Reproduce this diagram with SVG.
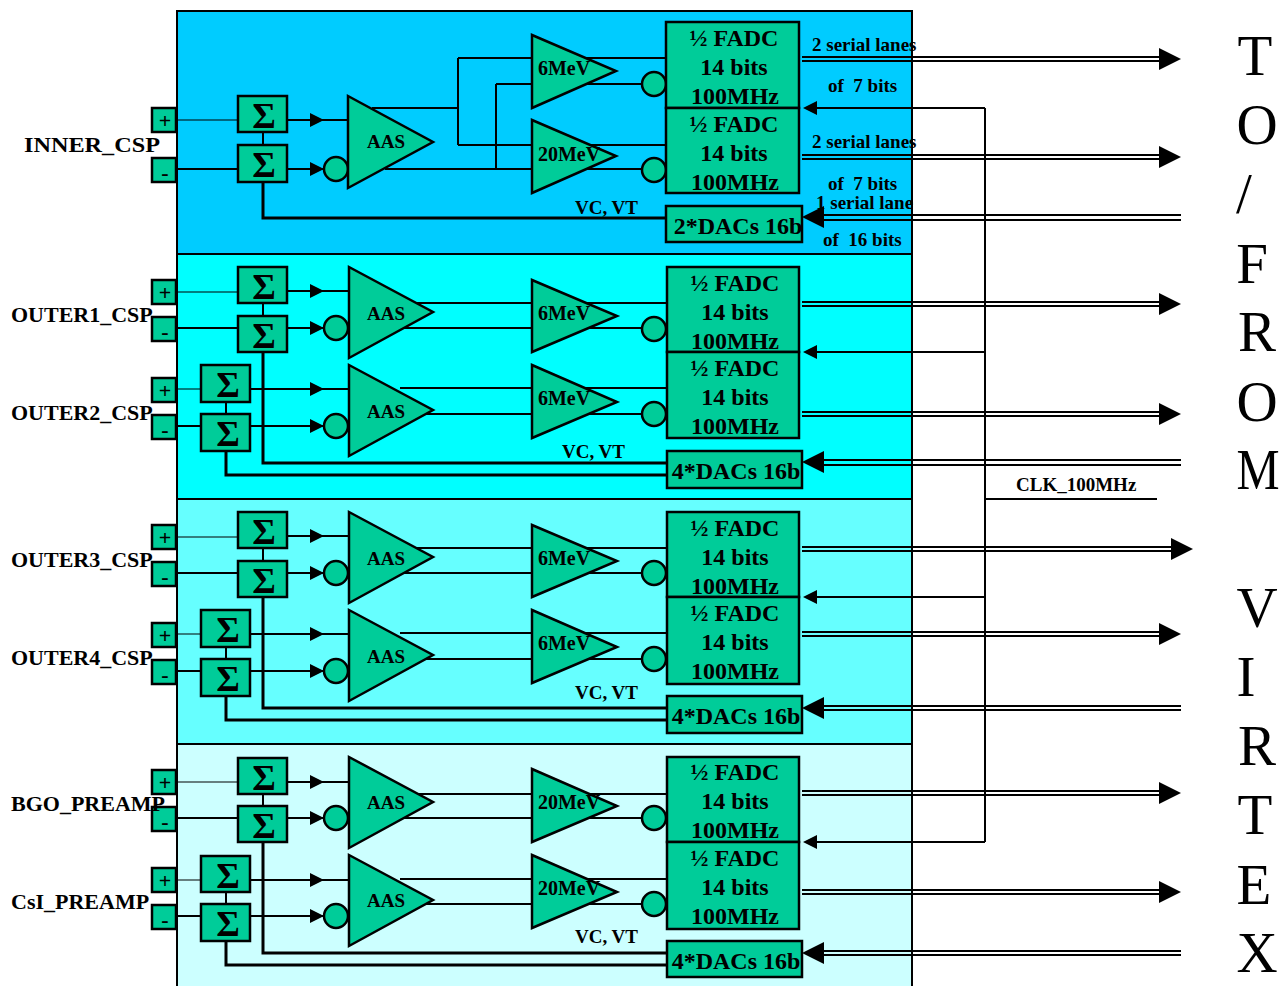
<svg xmlns="http://www.w3.org/2000/svg" width="1281" height="986" viewBox="0 0 1281 986">
<style>
text{font-family:"Liberation Serif","Times New Roman",serif;font-weight:bold;fill:#000}
.panel{stroke:#000;stroke-width:2}
.n{fill:#00cc99;stroke:#000;stroke-width:2.5}
.c{fill:none;stroke:#000;stroke-width:2}
.t{fill:none;stroke:#000;stroke-width:1.2}
.k{fill:none;stroke:#000;stroke-width:3}
.f{font-size:24px;text-anchor:middle}
.d{font-size:24px;text-anchor:middle}
.s{font-size:36px;text-anchor:middle}
.a{font-size:19px;text-anchor:middle}
.e{font-size:20px;text-anchor:middle}
.p{font-size:22px;text-anchor:middle}
.l{font-size:22px}
.q{font-size:19px;white-space:pre}
.v{font-size:19px}
.big{font-size:57px;font-weight:normal;text-anchor:middle}
</style>
<defs>
<polygon id="ar" points="0,-11 22,0 0,11" fill="#000"/>
<polygon id="al" points="0,-11 -22,0 0,11" fill="#000"/>
<polygon id="sr" points="0,-7 14,0 0,7" fill="#000"/>
<polygon id="sl" points="0,-7 -14,0 0,7" fill="#000"/>
</defs>
<rect width="1281" height="986" fill="#fff"/>
<g id="panels">
<rect class="panel" x="177" y="11" width="735" height="243" fill="#00ccff"/>
<rect class="panel" x="177" y="254" width="735" height="245" fill="#00ffff"/>
<rect class="panel" x="177" y="499" width="735" height="245" fill="#66ffff"/>
<rect class="panel" x="177" y="744" width="735" height="243" fill="#ccffff"/>
</g>
<g id="connectors">
<path class="t" d="M176 120H238M176 292H238M176 389H201M176 537H238M176 634H201M176 782H238M176 880H201"/>
<path class="c" d="M287 120H347M176 169H238M287 169H324M263 132V145"/>
<use href="#sr" x="310" y="120"/><use href="#sr" x="310" y="169"/>
<path class="c" d="M372 108H458M458 58V145M458 58H666M458 145H666M385 169H642M496 169V84M496 84H642"/>
<path class="k" d="M263 182V218H666"/>
<path class="c" d="M287 291H349M263 303V316M176 328H238M287 328H324M250 389H349M226 402V414M176 426H201M250 426H324"/>
<use href="#sr" x="310" y="291"/><use href="#sr" x="310" y="328"/><use href="#sr" x="310" y="389"/><use href="#sr" x="310" y="426"/>
<path class="c" d="M400 303H667M400 328H642M400 388H667M400 414H642"/>
<path class="k" d="M263 352V463H667M226 451V475H667"/>
<path class="c" d="M287 536H349M263 548V561M176 573H238M287 573H324M250 634H349M226 647V659M176 671H201M250 671H324"/>
<use href="#sr" x="310" y="536"/><use href="#sr" x="310" y="573"/><use href="#sr" x="310" y="634"/><use href="#sr" x="310" y="671"/>
<path class="c" d="M400 548H667M400 573H642M400 633H667M400 659H642"/>
<path class="k" d="M263 597V708H667M226 696V720H667"/>
<path class="c" d="M287 782H349M263 794V806M176 818H238M287 818H324M250 880H349M226 892V904M176 916H201M250 916H324"/>
<use href="#sr" x="310" y="782"/><use href="#sr" x="310" y="818"/><use href="#sr" x="310" y="880"/><use href="#sr" x="310" y="916"/>
<path class="c" d="M400 794H667M400 818H642M400 879H667M400 904H642"/>
<path class="k" d="M263 842V953H667M226 941V965H667"/>
<path class="c" d="M802 57H1161M802 61H1161M802 155H1161M802 159H1161M822 215H1181M822 220H1181M802 302H1161M802 306H1161M802 412H1161M802 416H1161M822 460H1181M822 465H1181M802 547H1173M802 551H1173M802 632H1161M802 636H1161M822 706H1181M822 710H1181M802 791H1161M802 795H1161M802 890H1161M802 894H1161M822 951H1181M822 955H1181"/>
<use href="#ar" x="1159" y="59"/><use href="#ar" x="1159" y="157"/><use href="#al" x="824" y="217"/><use href="#ar" x="1159" y="304"/><use href="#ar" x="1159" y="414"/><use href="#al" x="824" y="462"/><use href="#ar" x="1171" y="549"/><use href="#ar" x="1159" y="634"/><use href="#al" x="824" y="708"/><use href="#ar" x="1159" y="793"/><use href="#ar" x="1159" y="892"/><use href="#al" x="824" y="953"/>
<path class="c" d="M985 108V842M815 108H985M815 352H985M815 597H985M815 842H985M985 499H1157"/>
<use href="#sl" x="817" y="108"/><use href="#sl" x="817" y="352"/><use href="#sl" x="817" y="597"/><use href="#sl" x="817" y="842"/>
</g>
<g id="port1p"><rect class="n" x="152" y="108" width="24" height="24"/><text class="p" x="165" y="128">+</text></g>
<g id="port1m"><rect class="n" x="152" y="158" width="24" height="24"/><text class="p" x="165" y="180">-</text></g>
<g id="port2p"><rect class="n" x="152" y="280" width="24" height="24"/><text class="p" x="165" y="300">+</text></g>
<g id="port2m"><rect class="n" x="152" y="317" width="24" height="24"/><text class="p" x="165" y="339">-</text></g>
<g id="port3p"><rect class="n" x="152" y="378" width="24" height="24"/><text class="p" x="165" y="398">+</text></g>
<g id="port3m"><rect class="n" x="152" y="415" width="24" height="24"/><text class="p" x="165" y="437">-</text></g>
<g id="port4p"><rect class="n" x="152" y="525" width="24" height="24"/><text class="p" x="165" y="545">+</text></g>
<g id="port4m"><rect class="n" x="152" y="562" width="24" height="24"/><text class="p" x="165" y="584">-</text></g>
<g id="port5p"><rect class="n" x="152" y="623" width="24" height="24"/><text class="p" x="165" y="643">+</text></g>
<g id="port5m"><rect class="n" x="152" y="660" width="24" height="24"/><text class="p" x="165" y="682">-</text></g>
<g id="port6p"><rect class="n" x="152" y="770" width="24" height="24"/><text class="p" x="165" y="790">+</text></g>
<g id="port6m"><rect class="n" x="152" y="807" width="24" height="24"/><text class="p" x="165" y="829">-</text></g>
<g id="port7p"><rect class="n" x="152" y="868" width="24" height="24"/><text class="p" x="165" y="888">+</text></g>
<g id="port7m"><rect class="n" x="152" y="905" width="24" height="24"/><text class="p" x="165" y="927">-</text></g>
<g id="sum1a"><rect class="n" x="238" y="96" width="49" height="36"/><text class="s" x="264" y="128">Σ</text></g>
<g id="sum1b"><rect class="n" x="238" y="145" width="49" height="37"/><text class="s" x="264" y="177">Σ</text></g>
<g id="sum2a"><rect class="n" x="238" y="267" width="49" height="36"/><text class="s" x="264" y="299">Σ</text></g>
<g id="sum2b"><rect class="n" x="238" y="316" width="49" height="36"/><text class="s" x="264" y="348">Σ</text></g>
<g id="sum3a"><rect class="n" x="201" y="365" width="49" height="37"/><text class="s" x="228" y="397">Σ</text></g>
<g id="sum3b"><rect class="n" x="201" y="414" width="49" height="37"/><text class="s" x="228" y="446">Σ</text></g>
<g id="sum4a"><rect class="n" x="238" y="512" width="49" height="36"/><text class="s" x="264" y="544">Σ</text></g>
<g id="sum4b"><rect class="n" x="238" y="561" width="49" height="36"/><text class="s" x="264" y="593">Σ</text></g>
<g id="sum5a"><rect class="n" x="201" y="610" width="49" height="37"/><text class="s" x="228" y="642">Σ</text></g>
<g id="sum5b"><rect class="n" x="201" y="659" width="49" height="37"/><text class="s" x="228" y="691">Σ</text></g>
<g id="sum6a"><rect class="n" x="238" y="758" width="49" height="36"/><text class="s" x="264" y="790">Σ</text></g>
<g id="sum6b"><rect class="n" x="238" y="806" width="49" height="36"/><text class="s" x="264" y="838">Σ</text></g>
<g id="sum7a"><rect class="n" x="201" y="856" width="49" height="36"/><text class="s" x="228" y="888">Σ</text></g>
<g id="sum7b"><rect class="n" x="201" y="904" width="49" height="37"/><text class="s" x="228" y="936">Σ</text></g>
<g id="circ1"><circle class="n" cx="336" cy="169" r="12"/></g>
<g id="circ2"><circle class="n" cx="336" cy="328" r="12"/></g>
<g id="circ3"><circle class="n" cx="336" cy="426" r="12"/></g>
<g id="circ4"><circle class="n" cx="336" cy="573" r="12"/></g>
<g id="circ5"><circle class="n" cx="336" cy="671" r="12"/></g>
<g id="circ6"><circle class="n" cx="336" cy="818" r="12"/></g>
<g id="circ7"><circle class="n" cx="336" cy="916" r="12"/></g>
<g id="aas1"><polygon class="n" points="348,96 433,142 348,188"/><text class="a" x="386" y="148">AAS</text></g>
<g id="aas2"><polygon class="n" points="349,267 433,312 349,358"/><text class="a" x="386" y="320">AAS</text></g>
<g id="aas3"><polygon class="n" points="349,365 433,410 349,456"/><text class="a" x="386" y="418">AAS</text></g>
<g id="aas4"><polygon class="n" points="349,512 433,557 349,603"/><text class="a" x="386" y="565">AAS</text></g>
<g id="aas5"><polygon class="n" points="349,610 433,655 349,701"/><text class="a" x="386" y="663">AAS</text></g>
<g id="aas6"><polygon class="n" points="349,757 433,802 349,848"/><text class="a" x="386" y="809">AAS</text></g>
<g id="aas7"><polygon class="n" points="349,855 433,900 349,946"/><text class="a" x="386" y="907">AAS</text></g>
<g id="circa1"><circle class="n" cx="654" cy="84" r="12"/></g>
<g id="circa2"><circle class="n" cx="654" cy="170" r="12"/></g>
<g id="circa3"><circle class="n" cx="654" cy="329" r="12"/></g>
<g id="circa4"><circle class="n" cx="654" cy="414" r="12"/></g>
<g id="circa5"><circle class="n" cx="654" cy="573" r="12"/></g>
<g id="circa6"><circle class="n" cx="654" cy="659" r="12"/></g>
<g id="circa7"><circle class="n" cx="654" cy="818" r="12"/></g>
<g id="circa8"><circle class="n" cx="654" cy="904" r="12"/></g>
<g id="gain1"><polygon class="n" points="532,35 616,71 532,108"/><text class="e" x="564" y="75">6MeV</text></g>
<g id="gain2"><polygon class="n" points="532,120 616,156 532,193"/><text class="e" x="569" y="161">20MeV</text></g>
<g id="gain3"><polygon class="n" points="532,280 617,316 532,352"/><text class="e" x="564" y="320">6MeV</text></g>
<g id="gain4"><polygon class="n" points="532,365 617,402 532,438"/><text class="e" x="564" y="405">6MeV</text></g>
<g id="gain5"><polygon class="n" points="532,525 617,561 532,597"/><text class="e" x="564" y="565">6MeV</text></g>
<g id="gain6"><polygon class="n" points="532,610 617,647 532,683"/><text class="e" x="564" y="650">6MeV</text></g>
<g id="gain7"><polygon class="n" points="532,769 617,806 532,842"/><text class="e" x="569" y="809">20MeV</text></g>
<g id="gain8"><polygon class="n" points="532,855 617,892 532,928"/><text class="e" x="569" y="895">20MeV</text></g>
<g id="fadc1"><rect class="n" x="666" y="22" width="133" height="86"/><text class="f" x="734" y="46">½ FADC</text><text class="f" x="734" y="75">14 bits</text><text class="f" x="735" y="104">100MHz</text></g>
<g id="fadc2"><rect class="n" x="666" y="108" width="133" height="85"/><text class="f" x="734" y="132">½ FADC</text><text class="f" x="734" y="161">14 bits</text><text class="f" x="735" y="190">100MHz</text></g>
<g id="fadc3"><rect class="n" x="667" y="267" width="132" height="85"/><text class="f" x="735" y="291">½ FADC</text><text class="f" x="735" y="320">14 bits</text><text class="f" x="735" y="349">100MHz</text></g>
<g id="fadc4"><rect class="n" x="667" y="352" width="132" height="86"/><text class="f" x="735" y="376">½ FADC</text><text class="f" x="735" y="405">14 bits</text><text class="f" x="735" y="434">100MHz</text></g>
<g id="fadc5"><rect class="n" x="667" y="512" width="132" height="85"/><text class="f" x="735" y="536">½ FADC</text><text class="f" x="735" y="565">14 bits</text><text class="f" x="735" y="594">100MHz</text></g>
<g id="fadc6"><rect class="n" x="667" y="597" width="132" height="87"/><text class="f" x="735" y="621">½ FADC</text><text class="f" x="735" y="650">14 bits</text><text class="f" x="735" y="679">100MHz</text></g>
<g id="fadc7"><rect class="n" x="667" y="757" width="132" height="85"/><text class="f" x="735" y="780">½ FADC</text><text class="f" x="735" y="809">14 bits</text><text class="f" x="735" y="838">100MHz</text></g>
<g id="fadc8"><rect class="n" x="667" y="842" width="132" height="87"/><text class="f" x="735" y="866">½ FADC</text><text class="f" x="735" y="895">14 bits</text><text class="f" x="735" y="924">100MHz</text></g>
<g id="dac1"><rect class="n" x="666" y="206" width="136" height="36"/><text class="d" x="738" y="234">2*DACs 16b</text></g>
<g id="dac2"><rect class="n" x="667" y="451" width="135" height="37"/><text class="d" x="736" y="479">4*DACs 16b</text></g>
<g id="dac3"><rect class="n" x="667" y="696" width="135" height="37"/><text class="d" x="736" y="724">4*DACs 16b</text></g>
<g id="dac4"><rect class="n" x="667" y="941" width="135" height="36"/><text class="d" x="736" y="969">4*DACs 16b</text></g>
<g id="labels">
<text class="l" x="24" y="152" textLength="136" lengthAdjust="spacingAndGlyphs">INNER_CSP</text>
<text class="l" x="11" y="322">OUTER1_CSP</text>
<text class="l" x="11" y="420">OUTER2_CSP</text>
<text class="l" x="11" y="567">OUTER3_CSP</text>
<text class="l" x="11" y="665">OUTER4_CSP</text>
<text class="l" x="11" y="811">BGO_PREAMP</text>
<text class="l" x="11" y="909">CsI_PREAMP</text>
<text class="v" x="575" y="214">VC, VT</text>
<text class="v" x="562" y="458">VC, VT</text>
<text class="v" x="575" y="699">VC, VT</text>
<text class="v" x="575" y="943">VC, VT</text>
<text class="q" x="812" y="51">2 serial lanes</text>
<text class="q" x="828" y="92">of  7 bits</text>
<text class="q" x="812" y="148">2 serial lanes</text>
<text class="q" x="828" y="190">of  7 bits</text>
<text class="q" x="816" y="209">1 serial lane</text>
<text class="q" x="823" y="246">of  16 bits</text>
<text class="q" x="1016" y="491">CLK_100MHz</text>
</g>
<g id="vertical-title">
<text class="big" x="1255" y="75">T</text>
<text class="big" x="1257" y="144">O</text>
<text class="big" x="1244" y="213">/</text>
<text class="big" x="1252" y="283">F</text>
<text class="big" x="1257" y="351">R</text>
<text class="big" x="1257" y="421">O</text>
<text class="big" transform="translate(1258 489) scale(.85 1)" x="0" y="0">M</text>
<text class="big" x="1257" y="627">V</text>
<text class="big" x="1246" y="696">I</text>
<text class="big" x="1257" y="765">R</text>
<text class="big" x="1255" y="834">T</text>
<text class="big" x="1254" y="904">E</text>
<text class="big" x="1257" y="972">X</text>
</g>
</svg>
